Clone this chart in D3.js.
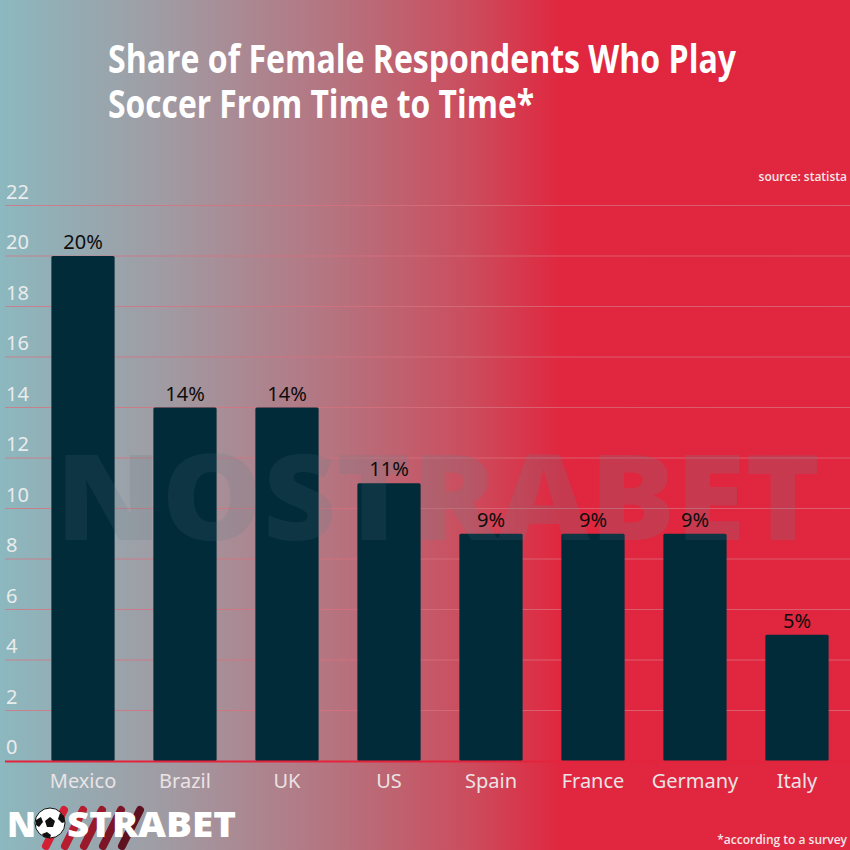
<!DOCTYPE html>
<html>
<head>
<meta charset="utf-8">
<script src="https://cdn.jsdelivr.net/npm/d3@7"></script>
<style>
  html, body { margin: 0; padding: 0; }
  body { width: 850px; height: 850px; overflow: hidden; }
  svg { display: block; }
</style>
</head>
<body>
<svg id="chart" width="850" height="850"></svg>
<script>
const categories = ["Mexico", "Brazil", "UK", "US", "Spain", "France", "Germany", "Italy"];
const values = [20, 14, 14, 11, 9, 9, 9, 5];
const yTicks = [0, 2, 4, 6, 8, 10, 12, 14, 16, 18, 20, 22];
const titleLines = ["Share of Female Respondents Who Play", "Soccer From Time to Time*"];
const sourceText = "source: statista";
const footnoteText = "*according to a survey";

const W = 850, H = 850;
const svg = d3.select("#chart");
const defs = svg.append("defs");

const grad = defs.append("linearGradient").attr("id", "bg").attr("x1", "0").attr("x2", "1").attr("y1", "0").attr("y2", "0");
[[0, "#8cb8bf"], [0.2, "#a19aa2"], [0.4, "#b6727e"], [0.55, "#cb4d5e"], [0.66, "#e0273f"], [1, "#e1263f"]]
  .forEach(([o, c]) => grad.append("stop").attr("offset", o).attr("stop-color", c));

svg.append("rect").attr("width", W).attr("height", H).attr("fill", "url(#bg)");

const x = d3.scaleBand().domain(categories).range([32, 848]).paddingInner(0.38).paddingOuter(0.19);
const y = d3.scaleLinear().domain([0, 22]).range([761, 205.5]);

// gridlines
svg.append("g").selectAll("line").data(yTicks.filter(d => d > 0)).join("line")
  .attr("x1", 5).attr("x2", 850)
  .attr("y1", d => y(d)).attr("y2", d => y(d))
  .attr("stroke", "#d9707e").attr("stroke-opacity", 0.75).attr("stroke-width", 1);

// y tick labels (above gridlines)
svg.append("g").selectAll("text").data(yTicks).join("text")
  .attr("x", 6).attr("y", d => y(d) - 7)
  .attr("font-family", "'Noto Sans', 'Open Sans', sans-serif")
  .attr("font-size", 20).attr("fill", "#e9ecec")
  .text(d => d);

// watermark
svg.append("text")
  .attr("x", 438).attr("y", 540)
  .attr("text-anchor", "middle")
  .attr("font-family", "'Open Sans', 'DejaVu Sans', sans-serif")
  .attr("font-weight", 800).attr("font-size", 118)
  .attr("textLength", 765).attr("lengthAdjust", "spacingAndGlyphs")
  .attr("fill", "#5e6e78").attr("fill-opacity", 0.14)
  .text("NOSTRABET");

// bars
svg.append("g").selectAll("rect").data(values).join("rect")
  .attr("x", (d, i) => x(categories[i]))
  .attr("width", x.bandwidth())
  .attr("y", d => y(d))
  .attr("height", d => y(0) - y(d))
  .attr("rx", 1.5)
  .attr("fill", "#022b3a");

// watermark over bars (lighten)
svg.append("text")
  .attr("x", 438).attr("y", 540)
  .attr("text-anchor", "middle")
  .attr("font-family", "'Open Sans', 'DejaVu Sans', sans-serif")
  .attr("font-weight", 800).attr("font-size", 118)
  .attr("textLength", 765).attr("lengthAdjust", "spacingAndGlyphs")
  .attr("fill", "#8aa0aa").attr("fill-opacity", 0.09)
  .text("NOSTRABET");

// value labels
svg.append("g").selectAll("text").data(values).join("text")
  .attr("x", (d, i) => x(categories[i]) + x.bandwidth() / 2)
  .attr("y", d => y(d) - 7)
  .attr("text-anchor", "middle")
  .attr("font-family", "'Noto Sans', 'Open Sans', sans-serif")
  .attr("font-size", 20).attr("fill", "#0d0d0d")
  .text(d => d + "%");

// axis line
svg.append("line").attr("x1", 5).attr("x2", 850).attr("y1", y(0) + 0.5).attr("y2", y(0) + 0.5)
  .attr("stroke", "#e3243d").attr("stroke-width", 2);

// x labels
svg.append("g").selectAll("text").data(categories).join("text")
  .attr("x", d => x(d) + x.bandwidth() / 2)
  .attr("y", 788)
  .attr("text-anchor", "middle")
  .attr("font-family", "'Noto Sans', 'Open Sans', sans-serif")
  .attr("font-size", 20).attr("fill", "#ebe3e5")
  .text(d => d);

// title
const title = svg.append("text")
  .attr("font-family", "'Liberation Sans Narrow', 'Open Sans', sans-serif")
  .attr("font-weight", "bold").attr("font-size", 40).attr("fill", "#ffffff");
title.append("tspan").attr("x", 108).attr("y", 73).attr("textLength", 628).attr("lengthAdjust", "spacingAndGlyphs").text(titleLines[0]);
title.append("tspan").attr("x", 108).attr("y", 118).attr("textLength", 426).attr("lengthAdjust", "spacingAndGlyphs").text(titleLines[1]);

// source
svg.append("text").attr("x", 847).attr("y", 181).attr("text-anchor", "end")
  .attr("font-family", "'Open Sans', sans-serif").attr("font-weight", 600)
  .attr("font-size", 12).attr("fill", "#f3e6e8").text(sourceText);

// footnote
svg.append("text").attr("x", 847).attr("y", 844).attr("text-anchor", "end")
  .attr("font-family", "'Open Sans', sans-serif").attr("font-weight", 600)
  .attr("font-size", 12).attr("fill", "#f3e6e8").text(footnoteText);

// logo
const logo = svg.append("g");
const stripeColors = ["#d42034", "#b71d2f", "#9a1a2b", "#7c1626", "#5e1220"];
stripeColors.forEach((c, i) => {
  logo.append("line")
    .attr("x1", 64 + i * 19).attr("y1", 810)
    .attr("x2", 46 + i * 19).attr("y2", 846)
    .attr("stroke", c).attr("stroke-width", 8).attr("stroke-linecap", "round");
});
logo.append("text").attr("x", 7).attr("y", 837)
  .attr("font-family", "'Open Sans', 'DejaVu Sans', sans-serif")
  .attr("font-weight", 800).attr("font-size", 35).attr("fill", "#ffffff")
  .text("N");
logo.append("circle").attr("cx", 50).attr("cy", 823).attr("r", 15).attr("fill", "#ffffff").attr("stroke", "#111").attr("stroke-width", 1);
logo.append("path").attr("d", "M50,817 l5,4 -2,6 -6,0 -2,-6 z").attr("fill", "#111");
logo.append("path").attr("d", "M36,820 l5,-3 2,5 -4,5 -3,-2 z").attr("fill", "#111");
logo.append("path").attr("d", "M60,813 l4,3 1,6 -3,1 -4,-4 z").attr("fill", "#111");
logo.append("path").attr("d", "M42,834 l5,-2 4,3 -1,3 -6,-1 z").attr("fill", "#111");
logo.append("text").attr("x", 67).attr("y", 837)
  .attr("font-family", "'Open Sans', 'DejaVu Sans', sans-serif")
  .attr("font-weight", 800).attr("font-size", 35).attr("fill", "#ffffff")
  .attr("textLength", 169).attr("lengthAdjust", "spacingAndGlyphs")
  .text("STRABET");
</script>
</body>
</html>
